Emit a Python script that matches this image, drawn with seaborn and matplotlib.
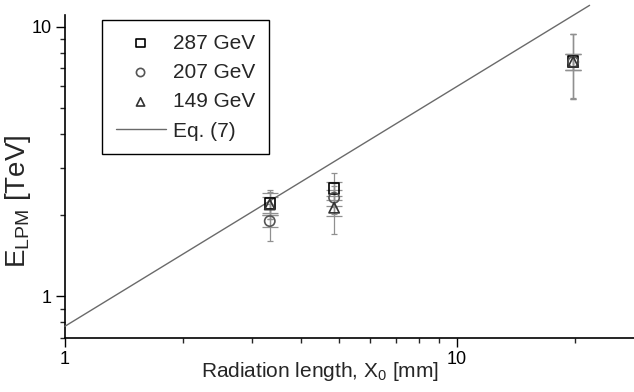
import matplotlib
matplotlib.use("Agg")
import matplotlib.pyplot as plt
import matplotlib.ticker as mticker
import seaborn as sns
import pandas as pd

# ---- data ----
x_mm = [3.33, 4.86, 19.8]
E_287 = [2.21, 2.51, 7.43]
E_207 = [1.90, 2.32, 7.40]
E_149 = [2.19, 2.13, 7.40]
stat_287 = [0.20, 0.15, 0.50]
stat_207 = [0.10, 0.15, 0.50]
stat_149 = [0.15, 0.15, 0.50]
tot_287 = [0.27, 0.36, 2.0]
tot_207 = [0.30, 0.30, 2.0]
tot_149 = [0.25, 0.43, 2.0]
eq_x = [1.0, 21.8]
eq_y = [0.774, 12.0]
labels = ["287 GeV", "207 GeV", "149 GeV"]

sns.set_style("ticks")
plt.rcParams['font.family'] = ['Liberation Sans', 'DejaVu Sans']
plt.rcParams['mathtext.fontset'] = 'custom'
plt.rcParams['mathtext.rm'] = 'Liberation Sans'
plt.rcParams['mathtext.it'] = 'Liberation Sans'

fig = plt.figure(figsize=(6.34, 3.92), dpi=100)
ax = fig.add_axes([65/634, 1-338/392, 1-65/634, (338-15)/392])

series = [
    (E_287, stat_287, tot_287, 's', 'black', labels[0]),
    (E_207, stat_207, tot_207, 'o', '#555555', labels[1]),
    (E_149, stat_149, tot_149, '^', '#333333', labels[2]),
]

# error bars
for E, st, tt, m, c, lab in series:
    ax.errorbar(x_mm, E, yerr=tt, fmt='none', ecolor='#909090', elinewidth=0.9,
                capsize=2.5, capthick=0.9, zorder=2)
    ax.errorbar(x_mm, E, yerr=st, fmt='none', ecolor='#909090', elinewidth=0.9,
                capsize=5.5, capthick=0.9, zorder=2)

# Eq. (7) line
df_eq = pd.DataFrame({"x": eq_x, "y": eq_y})
sns.lineplot(data=df_eq, x="x", y="y", ax=ax, color='#6a6a6a', lw=1.0,
             label="Eq. (7)", zorder=3)
ax.lines[-1].set_clip_on(False)

# markers
for E, st, tt, m, c, lab in series:
    df = pd.DataFrame({"x": x_mm, "y": E})
    sns.scatterplot(data=df, x="x", y="y", ax=ax, marker=m, s=55,
                    facecolor='none', edgecolor=c, linewidth=1.2, label=lab, zorder=4)

ax.set_xscale('log')
ax.set_yscale('log')
ax.set_xlim(1, 28.3)
ax.set_ylim(0.70, 11.05)

ax.xaxis.set_major_locator(mticker.LogLocator(base=10, numticks=10))
ax.xaxis.set_minor_locator(mticker.LogLocator(base=10, subs=range(2, 10), numticks=10))
ax.yaxis.set_major_locator(mticker.LogLocator(base=10, numticks=10))
ax.yaxis.set_minor_locator(mticker.LogLocator(base=10, subs=range(2, 10), numticks=10))
fmt = mticker.FuncFormatter(lambda v, p: f"{v:g}")
ax.xaxis.set_major_formatter(fmt)
ax.yaxis.set_major_formatter(fmt)
ax.xaxis.set_minor_formatter(mticker.NullFormatter())
ax.yaxis.set_minor_formatter(mticker.NullFormatter())

ax.tick_params(which='major', direction='out', length=6.5, width=1.0, labelsize=13,
               colors='black', pad=3)
ax.tick_params(which='minor', direction='out', length=3.5, width=1.0)
for s in ['top', 'right']:
    ax.spines[s].set_visible(False)
for s in ['left', 'bottom']:
    ax.spines[s].set_linewidth(1.2)
    ax.spines[s].set_color('black')

ax.set_xlabel(r"Radiation length, X$_0$ [mm]", fontsize=15)
ax.xaxis.set_label_coords((320-65)/569, -(360-338)/323)
ax.set_ylabel(r"E$_{\rm LPM}$ [TeV]", fontsize=20)
ax.yaxis.set_label_coords((33-65)/569, (338-201)/323)

# legend
handles, labs = ax.get_legend_handles_labels()
order = [labs.index(l) for l in labels + ["Eq. (7)"]]
leg = ax.legend([handles[i] for i in order], [labs[i] for i in order],
                loc='upper left', bbox_to_anchor=((102-65)/569, (338-20)/323),
                borderaxespad=0, frameon=True,
                fontsize=15, fancybox=False, edgecolor='black', framealpha=1,
                handlelength=2.4, handletextpad=0.35, borderpad=0.65, labelspacing=0.5,
                markerscale=0.8)
leg.get_frame().set_linewidth(1.0)

fig.savefig("out.png", dpi=100)
